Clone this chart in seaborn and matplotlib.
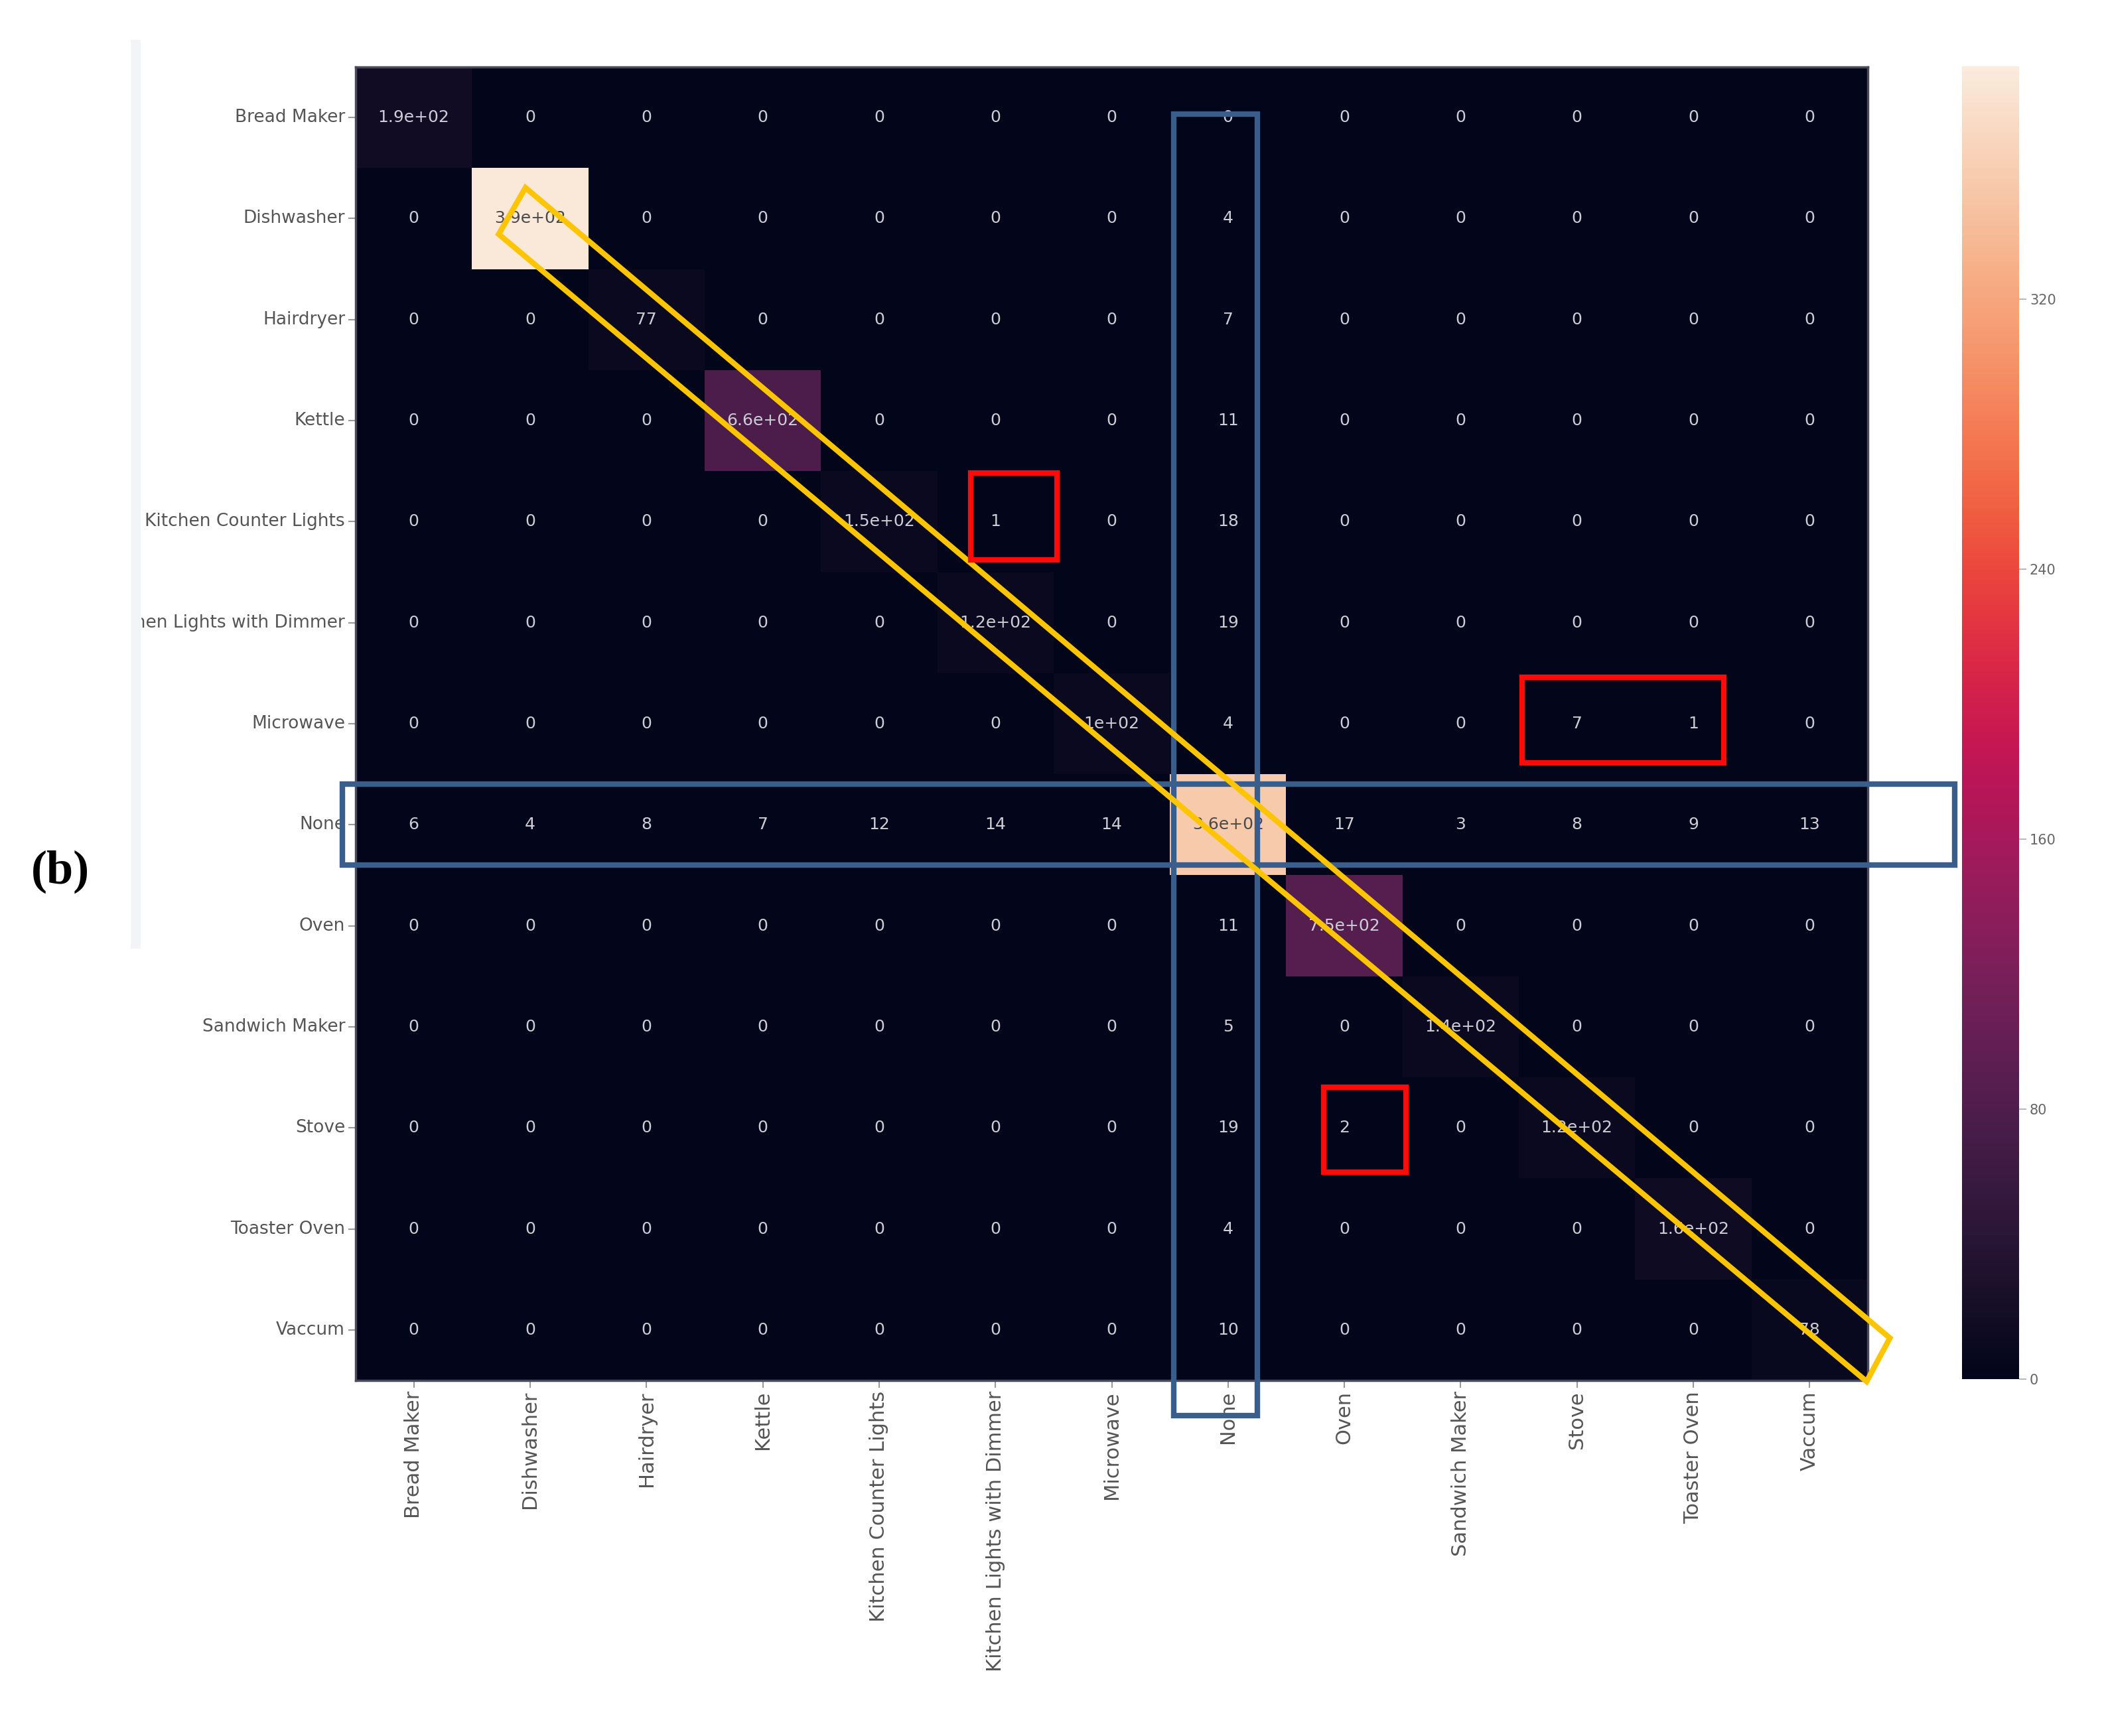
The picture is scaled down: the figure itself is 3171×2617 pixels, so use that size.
import numpy as np
import pandas as pd
import seaborn as sns
import matplotlib.pyplot as plt
from matplotlib.patches import Rectangle, Polygon

# class names (rows = true, columns = predicted)
LABELS = [
    "Bread Maker",
    "Dishwasher",
    "Hairdryer",
    "Kettle",
    "Kitchen Counter Lights",
    "Kitchen Lights with Dimmer",
    "Microwave",
    "None",
    "Oven",
    "Sandwich Maker",
    "Stove",
    "Toaster Oven",
    "Vaccum",
]
NONE_IDX = 7

# annotation text printed on the diagonal
DIAG_TEXT = ["1.9e+02", "3.9e+02", "77", "6.6e+02", "1.5e+02", "1.2e+02", "1e+02",
             "3.6e+02", "7.5e+02", "1.4e+02", "1.2e+02", "1.6e+02", "78"]
# shade of the diagonal cells (off-diagonal cells read as 0)
DIAG_SHADE = [18, 385, 12, 78, 12, 10, 10, 355, 88, 12, 11, 14, 8]
# counts predicted as "None" (column) and true "None" (row)
NONE_COL = [0, 4, 7, 11, 18, 19, 4, 0, 11, 5, 19, 4, 10]
NONE_ROW = [6, 4, 8, 7, 12, 14, 14, 0, 17, 3, 8, 9, 13]
# remaining off-diagonal confusions: (row, col, count)
OTHER = [(4, 5, 1), (6, 10, 7), (6, 11, 1), (10, 8, 2)]
CBAR_TICKS = [0, 80, 160, 240, 320]

n = len(LABELS)
counts = np.zeros((n, n))
counts[:, NONE_IDX] = NONE_COL
counts[NONE_IDX, :] = NONE_ROW
for r, c, v in OTHER:
    counts[r, c] = v

annot = counts.astype(int).astype(str).astype(object)
shade = np.zeros((n, n))
for i in range(n):
    annot[i, i] = DIAG_TEXT[i]
    shade[i, i] = DIAG_SHADE[i]

shade_df = pd.DataFrame(shade, index=LABELS, columns=LABELS)

W, H = 3171, 2617
fig = plt.figure(figsize=(W / 100, H / 100), dpi=100)
ax = fig.add_axes([536 / W, 1 - 2081 / H, (2815 - 536) / W, (2081 - 101) / H])
cax = fig.add_axes([2957 / W, 1 - 2079 / H, (3043 - 2957) / W, (2079 - 100) / H])

sns.heatmap(
    shade_df,
    annot=annot,
    fmt="",
    cmap="rocket",
    vmin=0,
    vmax=389,
    ax=ax,
    cbar_ax=cax,
    annot_kws={"size": 18},
    cbar_kws={"ticks": CBAR_TICKS},
)

# soften the annotation colours (the source image is blurred)
for t in ax.texts:
    if t.get_color() == "w":
        t.set_color("#cdcdd5")
    else:
        t.set_color("#4a4a4a")

ax.set_xticklabels(LABELS, rotation=90, fontsize=22, color="#555555")
ax.set_yticklabels(LABELS, rotation=0, fontsize=19, color="#555555")
ax.tick_params(length=8, width=1.5, color="#999999")
for s in ax.spines.values():
    s.set_visible(True)
    s.set_color("#4a4a5a")
    s.set_linewidth(2.5)
cax.tick_params(labelsize=15, labelcolor="#666666", length=8, width=1.2, color="#aaaaaa")

# highlight boxes, in cell units
BLUE = "#3a5e8c"
RED = "#ff0a0a"
YELLOW = "#fcc500"
LW = 6

ax.add_patch(Polygon([(1.46, 1.195), (13.19, 12.58), (12.99, 13.01), (1.23, 1.655)],
                     closed=True, fill=False, ec=YELLOW, lw=LW, clip_on=False, zorder=10))
ax.add_patch(Rectangle((7.036, 0.465), 0.714, 12.885, fill=False, ec=BLUE, lw=LW,
                       clip_on=False, zorder=9))
ax.add_patch(Rectangle((-0.115, 7.1), 13.865, 0.8, fill=False, ec=BLUE, lw=LW,
                       clip_on=False, zorder=9))
for x0, y0, w, h in [(5.29, 4.02, 0.74, 0.86), (10.03, 6.04, 1.73, 0.85), (8.32, 10.1, 0.71, 0.84)]:
    ax.add_patch(Rectangle((x0, y0), w, h, fill=False, ec=RED, lw=LW, clip_on=False, zorder=11))

# cropped left margin with panel letter
fig.add_artist(Rectangle((0, 0), 212 / W, 1, transform=fig.transFigure, color="white", zorder=5))
fig.add_artist(Rectangle((197 / W, 1 - 1430 / H), 15 / W, 1370 / H, transform=fig.transFigure,
                         color="#eef0f6", alpha=0.7, lw=0, zorder=5))
fig.text(91 / W, 1 - 1314 / H, "(b)", ha="center", va="center", fontsize=52,
         fontweight="bold", family="Liberation Serif", zorder=6)

fig.savefig("out.png", dpi=100, facecolor="white")
